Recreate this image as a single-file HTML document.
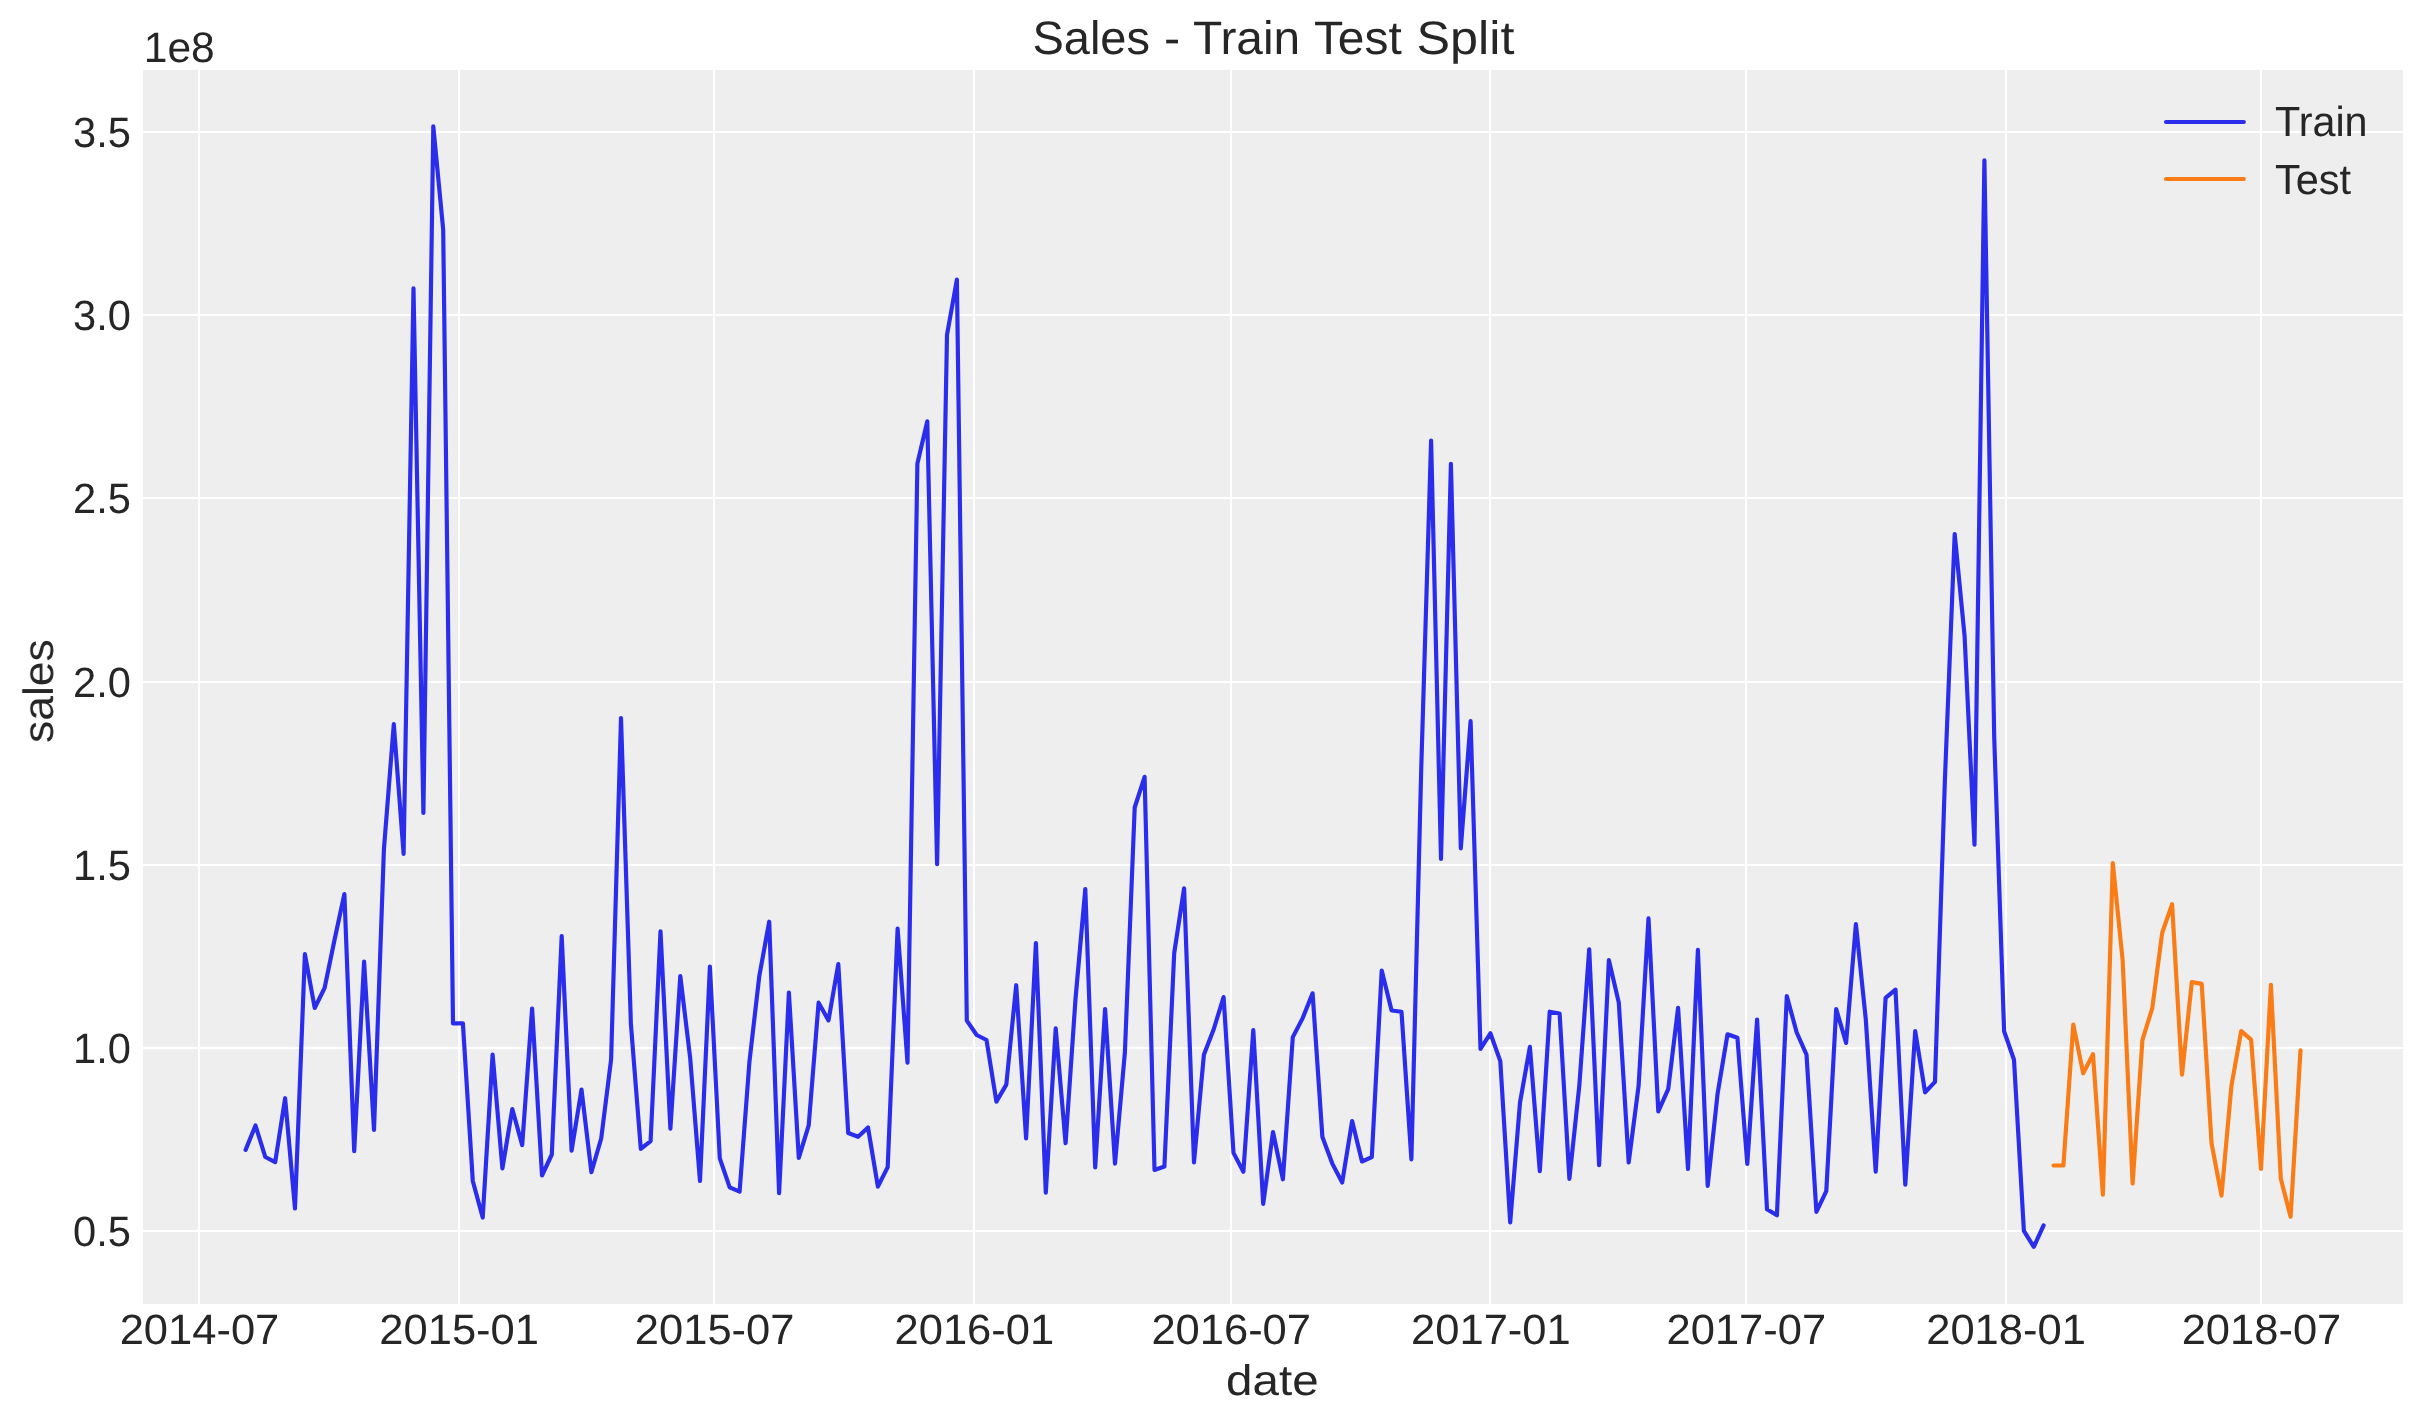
<!DOCTYPE html>
<html><head><meta charset="utf-8"><title>Sales - Train Test Split</title>
<style>
html,body{margin:0;padding:0;background:#ffffff;width:2423px;height:1423px;overflow:hidden;}
svg{display:block;}
.t text{font-family:"Liberation Sans", sans-serif;fill:#262626;text-rendering:geometricPrecision;}
.t{will-change:transform;}
</style></head><body>
<svg width="2423" height="1423" viewBox="0 0 2423 1423">
<rect x="0" y="0" width="2423" height="1423" fill="#ffffff"/>
<rect x="143" y="70" width="2260" height="1234" fill="#eeeeee"/>
<rect x="198" y="70" width="2" height="1234" fill="#ffffff"/>
<rect x="458" y="70" width="2" height="1234" fill="#ffffff"/>
<rect x="713" y="70" width="2" height="1234" fill="#ffffff"/>
<rect x="973" y="70" width="2" height="1234" fill="#ffffff"/>
<rect x="1230" y="70" width="2" height="1234" fill="#ffffff"/>
<rect x="1489" y="70" width="2" height="1234" fill="#ffffff"/>
<rect x="1745" y="70" width="2" height="1234" fill="#ffffff"/>
<rect x="2005" y="70" width="2" height="1234" fill="#ffffff"/>
<rect x="2260" y="70" width="2" height="1234" fill="#ffffff"/>
<rect x="143" y="131" width="2260" height="2" fill="#ffffff"/>
<rect x="143" y="314" width="2260" height="2" fill="#ffffff"/>
<rect x="143" y="497" width="2260" height="2" fill="#ffffff"/>
<rect x="143" y="681" width="2260" height="2" fill="#ffffff"/>
<rect x="143" y="864" width="2260" height="2" fill="#ffffff"/>
<rect x="143" y="1047" width="2260" height="2" fill="#ffffff"/>
<rect x="143" y="1230" width="2260" height="2" fill="#ffffff"/>
<polyline points="245.6,1149.9 255.5,1125.5 265.3,1157.0 275.2,1162.1 285.1,1098.2 295.0,1208.5 304.9,954.0 314.7,1008.0 324.6,988.0 334.5,940.0 344.4,894.0 354.2,1151.2 364.1,961.5 374.0,1130.0 383.9,849.5 393.8,724.2 403.6,853.8 413.5,288.3 423.4,812.9 433.3,126.4 443.2,229.8 453.0,1023.4 462.9,1023.4 472.8,1181.0 482.7,1217.5 492.6,1054.5 502.4,1168.4 512.3,1109.0 522.2,1145.1 532.1,1008.5 542.0,1175.5 551.8,1154.5 561.7,936.2 571.6,1150.7 581.5,1089.5 591.4,1172.2 601.2,1138.5 611.1,1059.6 621.0,718.1 630.9,1024.2 640.8,1148.9 650.6,1141.1 660.5,931.4 670.4,1128.7 680.3,976.1 690.2,1058.3 700.0,1181.0 709.9,966.5 719.8,1158.3 729.7,1187.4 739.6,1191.7 749.4,1062.1 759.3,976.1 769.2,921.7 779.1,1193.2 788.9,992.6 798.8,1157.8 808.7,1125.4 818.6,1002.7 828.5,1020.4 838.3,964.0 848.2,1133.0 858.1,1136.8 868.0,1127.4 877.9,1186.6 887.7,1167.1 897.6,928.6 907.5,1062.6 917.4,463.5 927.3,421.3 937.1,864.1 947.0,334.8 956.9,279.6 966.8,1020.6 976.7,1035.0 986.5,1040.0 996.4,1101.6 1006.3,1084.6 1016.2,985.2 1026.1,1138.3 1035.9,943.0 1045.8,1192.7 1055.7,1028.4 1065.6,1143.2 1075.5,999.0 1085.3,889.0 1095.2,1167.4 1105.1,1009.0 1115.0,1163.6 1124.9,1052.3 1134.7,807.5 1144.6,776.8 1154.5,1169.9 1164.4,1166.6 1174.2,953.1 1184.1,888.3 1194.0,1162.3 1203.9,1054.8 1213.8,1029.0 1223.6,997.1 1233.5,1152.9 1243.4,1171.7 1253.3,1030.0 1263.2,1204.0 1273.0,1132.0 1282.9,1179.3 1292.8,1037.1 1302.7,1018.1 1312.6,993.3 1322.4,1137.0 1332.3,1163.6 1342.2,1182.5 1352.1,1121.1 1362.0,1161.5 1371.8,1157.2 1381.7,970.5 1391.6,1010.5 1401.5,1011.8 1411.4,1159.3 1421.2,770.0 1431.1,440.5 1441.0,859.0 1450.9,463.8 1460.8,848.3 1470.6,721.2 1480.5,1048.9 1490.4,1033.3 1500.3,1061.1 1510.2,1222.3 1520.0,1102.7 1529.9,1046.8 1539.8,1171.1 1549.7,1011.7 1559.6,1013.5 1569.4,1178.9 1579.3,1085.8 1589.2,949.3 1599.1,1165.1 1608.9,960.2 1618.8,1002.6 1628.7,1162.5 1638.6,1085.8 1648.5,918.4 1658.3,1111.3 1668.2,1089.2 1678.1,1007.8 1688.0,1169.0 1697.9,949.8 1707.7,1185.9 1717.6,1093.6 1727.5,1034.3 1737.4,1037.7 1747.3,1163.8 1757.1,1019.5 1767.0,1209.3 1776.9,1215.3 1786.8,996.1 1796.7,1032.5 1806.5,1054.6 1816.4,1211.9 1826.3,1191.1 1836.2,1009.1 1846.1,1042.9 1855.9,924.1 1865.8,1019.5 1875.7,1171.6 1885.6,997.9 1895.5,989.6 1905.3,1184.6 1915.2,1031.2 1925.1,1092.3 1935.0,1081.9 1944.9,780.0 1954.7,534.0 1964.6,636.2 1974.5,844.6 1984.4,160.3 1994.2,737.0 2004.1,1031.3 2014.0,1059.8 2023.9,1230.8 2033.8,1246.8 2043.6,1225.4" fill="none" stroke="#2a2eec" stroke-width="4.17" stroke-linejoin="round" stroke-linecap="round"/>
<polyline points="2053.5,1165.5 2063.4,1165.5 2073.3,1024.7 2083.2,1073.3 2093.0,1054.2 2102.9,1194.7 2112.8,863.0 2122.7,960.9 2132.6,1183.5 2142.4,1040.1 2152.3,1008.1 2162.2,932.8 2172.1,904.1 2182.0,1074.7 2191.8,982.0 2201.7,983.9 2211.6,1143.6 2221.5,1195.6 2231.4,1086.0 2241.2,1031.1 2251.1,1039.6 2261.0,1168.9 2270.9,984.8 2280.8,1178.7 2290.6,1216.7 2300.5,1050.3" fill="none" stroke="#fa7c17" stroke-width="4.17" stroke-linejoin="round" stroke-linecap="round"/>
<line x1="2166" y1="122" x2="2243.8" y2="122" stroke="#2a2eec" stroke-width="4.17" stroke-linecap="round"/>
<line x1="2166" y1="179" x2="2243.8" y2="179" stroke="#fa7c17" stroke-width="4.17" stroke-linecap="round"/>
<g class="t">
<text x="119.70" y="1343.80" font-size="42.43" textLength="159.60" lengthAdjust="spacingAndGlyphs">2014-07</text>
<text x="379.39" y="1343.80" font-size="42.43" textLength="159.60" lengthAdjust="spacingAndGlyphs">2015-01</text>
<text x="634.85" y="1343.80" font-size="42.43" textLength="159.60" lengthAdjust="spacingAndGlyphs">2015-07</text>
<text x="894.54" y="1343.80" font-size="42.43" textLength="159.60" lengthAdjust="spacingAndGlyphs">2016-01</text>
<text x="1151.40" y="1343.80" font-size="42.43" textLength="159.60" lengthAdjust="spacingAndGlyphs">2016-07</text>
<text x="1411.09" y="1343.80" font-size="42.43" textLength="159.60" lengthAdjust="spacingAndGlyphs">2017-01</text>
<text x="1666.55" y="1343.80" font-size="42.43" textLength="159.60" lengthAdjust="spacingAndGlyphs">2017-07</text>
<text x="1926.24" y="1343.80" font-size="42.43" textLength="159.60" lengthAdjust="spacingAndGlyphs">2018-01</text>
<text x="2181.70" y="1343.80" font-size="42.43" textLength="159.60" lengthAdjust="spacingAndGlyphs">2018-07</text>
<text x="73.10" y="146.80" font-size="42.44" textLength="57.90" lengthAdjust="spacingAndGlyphs">3.5</text>
<text x="73.10" y="329.80" font-size="42.44" textLength="57.90" lengthAdjust="spacingAndGlyphs">3.0</text>
<text x="73.10" y="512.80" font-size="42.44" textLength="57.90" lengthAdjust="spacingAndGlyphs">2.5</text>
<text x="73.10" y="696.80" font-size="42.44" textLength="57.90" lengthAdjust="spacingAndGlyphs">2.0</text>
<text x="73.10" y="879.80" font-size="42.44" textLength="57.90" lengthAdjust="spacingAndGlyphs">1.5</text>
<text x="73.10" y="1062.80" font-size="42.44" textLength="57.90" lengthAdjust="spacingAndGlyphs">1.0</text>
<text x="73.10" y="1245.80" font-size="42.44" textLength="57.90" lengthAdjust="spacingAndGlyphs">0.5</text>
<text x="1032.40" y="53.80" font-size="46.97" textLength="117.60" lengthAdjust="spacingAndGlyphs">Sales</text>
<text x="1164.10" y="53.80" font-size="46.97" textLength="16.20" lengthAdjust="spacingAndGlyphs">-</text>
<text x="1193.00" y="53.80" font-size="46.97" textLength="107.20" lengthAdjust="spacingAndGlyphs">Train</text>
<text x="1313.90" y="53.80" font-size="46.97" textLength="87.90" lengthAdjust="spacingAndGlyphs">Test</text>
<text x="1416.60" y="53.80" font-size="46.97" textLength="97.80" lengthAdjust="spacingAndGlyphs">Split</text>
<text x="143.80" y="61.80" font-size="42.50" textLength="71.00" lengthAdjust="spacingAndGlyphs">1e8</text>
<text x="1226.00" y="1394.80" font-size="42.78" textLength="92.60" lengthAdjust="spacingAndGlyphs">date</text>
<g transform="translate(52.90,743.00) rotate(-90)"><text x="0.00" y="0.00" font-size="42.37" textLength="103.80" lengthAdjust="spacingAndGlyphs">sales</text></g>
<text x="2275.00" y="135.70" font-size="41.99" textLength="92.60" lengthAdjust="spacingAndGlyphs">Train</text>
<text x="2274.90" y="193.80" font-size="41.99" textLength="76.10" lengthAdjust="spacingAndGlyphs">Test</text>
</g>
</svg>
</body></html>
